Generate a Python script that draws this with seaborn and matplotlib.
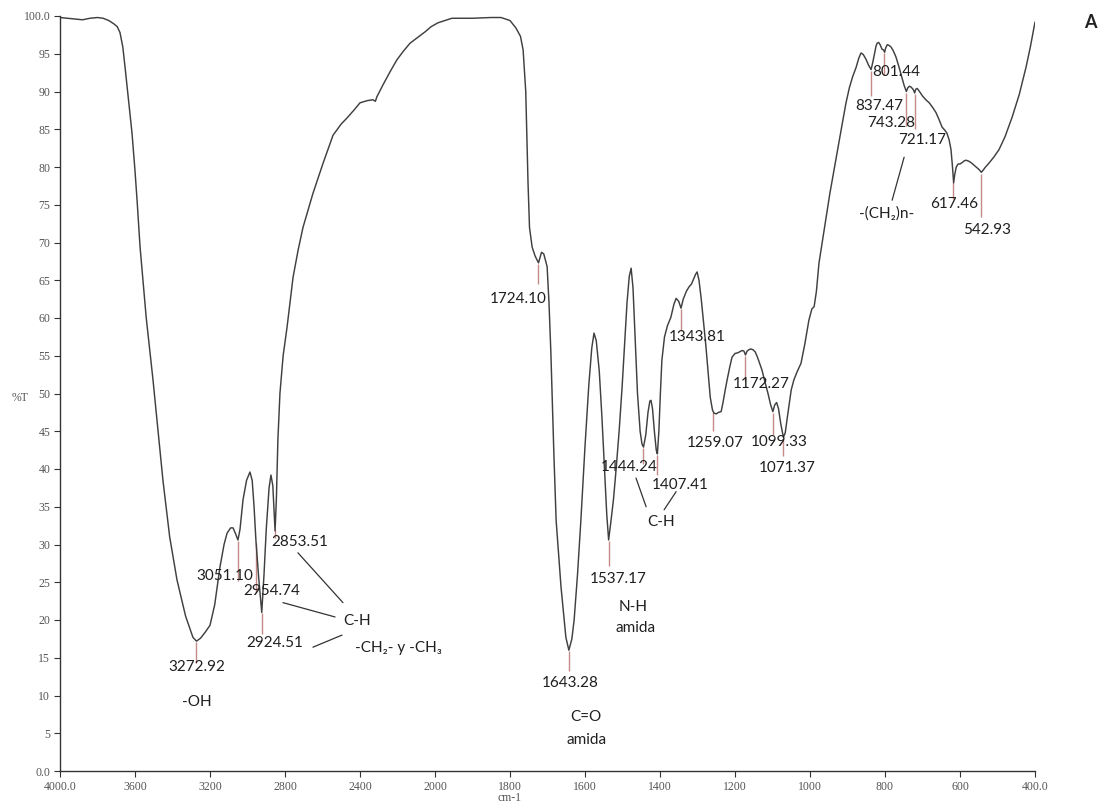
import numpy as np
import pandas as pd
import matplotlib
matplotlib.use("Agg")
import matplotlib.pyplot as plt
import seaborn as sns

# ---------------- data ----------------
wavenumber = [
    4000, 3960, 3920, 3880, 3840, 3800, 3770, 3740, 3715, 3695,
    3680, 3665, 3653, 3635, 3616, 3600, 3589, 3573, 3540, 3504,
    3475, 3451, 3415, 3376, 3330, 3291, 3272, 3250, 3225, 3200,
    3175, 3147, 3125, 3109, 3090, 3077, 3065, 3051, 3040, 3024,
    3005, 2987, 2975, 2965, 2955, 2940, 2924, 2912, 2900, 2885,
    2875, 2865, 2853, 2846, 2838, 2827, 2810, 2789, 2757, 2730,
    2704, 2651, 2597, 2544, 2500, 2469, 2430, 2400, 2360, 2331,
    2318, 2310, 2277, 2240, 2203, 2170, 2133, 2090, 2053, 2020,
    1992, 1955, 1900, 1850, 1824, 1800, 1784, 1772, 1765, 1758,
    1752, 1748, 1741, 1733, 1724, 1716, 1710, 1701, 1696, 1691,
    1683, 1677, 1664, 1651, 1643, 1635, 1629, 1620, 1611, 1600,
    1590, 1582, 1576, 1570, 1562, 1555, 1548, 1542, 1537, 1531,
    1524, 1517, 1509, 1501, 1494, 1488, 1482, 1477, 1472, 1466,
    1460, 1453, 1448, 1444, 1438, 1432, 1427, 1424, 1420, 1415,
    1410, 1407, 1403, 1399, 1395, 1388, 1380, 1371, 1363, 1357,
    1350, 1344, 1338, 1330, 1323, 1316, 1310, 1305, 1301, 1296,
    1290, 1284, 1278, 1272, 1266, 1260, 1256, 1250, 1244, 1237,
    1232, 1226, 1221, 1214, 1208, 1200, 1192, 1185, 1180, 1176,
    1172, 1168, 1163, 1158, 1152, 1146, 1140, 1133, 1128, 1120,
    1112, 1105, 1099, 1094, 1089, 1084, 1078, 1071, 1066, 1060,
    1050, 1043, 1035, 1024, 1014, 1003, 995, 989, 983, 976,
    966, 957, 947, 936, 926, 917, 910, 904, 895, 886,
    877, 870, 864, 858, 851, 844, 837, 832, 828, 824,
    821, 817, 813, 808, 804, 801, 798, 794, 789, 784,
    778, 771, 763, 755, 749, 743, 739, 735, 731, 727,
    724, 721, 718, 714, 708, 700, 691, 682, 673, 664,
    656, 648, 641, 635, 629, 624, 620, 617, 614, 610,
    605, 600, 594, 589, 584, 578, 571, 564, 557, 550,
    543, 538, 532, 523, 510, 496, 480, 461, 442, 424,
    412, 400,
]
transmittance = [
    99.8, 99.7, 99.6, 99.5, 99.7, 99.8, 99.7, 99.4, 99.0, 98.6,
    97.8, 95.9, 93.2, 89.0, 84.5, 79.5, 75.6, 69.4, 60.0, 51.8,
    44.5, 38.5, 31.0, 25.3, 20.5, 17.7, 17.2, 17.6, 18.4, 19.3,
    22.0, 27.0, 30.0, 31.5, 32.2, 32.2, 31.5, 30.6, 32.0, 35.9,
    38.5, 39.6, 38.5, 35.0, 30.5, 25.5, 21.0, 26.0, 32.0, 37.5,
    39.2, 37.8, 31.8, 36.0, 43.8, 50.0, 55.0, 58.8, 65.4, 69.0,
    72.0, 76.5, 80.5, 84.2, 85.7, 86.5, 87.6, 88.5, 88.8, 88.9,
    88.7, 89.3, 90.9, 92.6, 94.2, 95.3, 96.4, 97.2, 97.9, 98.6,
    99.1, 99.7, 99.7, 99.8, 99.8, 99.4, 98.4, 97.3, 95.5, 90.0,
    78.0, 72.0, 69.4, 68.2, 67.3, 68.7, 68.5, 66.8, 62.0, 55.4,
    42.0, 33.2, 24.4, 17.7, 16.0, 17.5, 20.0, 26.0, 33.2, 43.0,
    51.0, 56.0, 58.0, 57.0, 53.0, 47.0, 40.0, 34.0, 30.6, 33.0,
    36.0, 40.0, 45.0, 50.9, 57.0, 62.0, 65.5, 66.6, 64.0, 57.0,
    50.0, 45.0, 43.3, 42.9, 44.5, 47.5, 49.0, 49.1, 48.0, 45.0,
    42.5, 42.0, 45.0, 50.0, 54.4, 57.5, 59.0, 60.1, 61.8, 62.6,
    62.2, 61.3, 62.5, 63.5, 64.1, 64.5, 65.2, 65.8, 66.1, 65.0,
    62.5, 59.5, 56.5, 53.0, 49.5, 47.8, 47.4, 47.3, 47.5, 47.6,
    48.8, 50.5, 51.8, 53.5, 54.8, 55.3, 55.4, 55.6, 55.7, 55.6,
    55.1, 55.6, 55.8, 55.9, 55.8, 55.5, 54.8, 53.8, 53.1, 51.5,
    50.0, 48.5, 47.6, 48.5, 48.8, 48.0, 46.0, 44.2, 44.8, 47.0,
    50.5, 51.8, 52.8, 54.0, 56.5, 59.7, 61.2, 61.5, 63.5, 67.3,
    70.5, 73.4, 76.5, 79.6, 82.4, 84.9, 86.8, 88.5, 90.5, 92.0,
    93.2, 94.4, 95.1, 94.9, 94.3, 93.5, 92.9, 94.0, 95.0, 96.0,
    96.4, 96.5, 96.2, 95.6, 95.5, 95.2, 95.8, 96.2, 96.1, 95.9,
    95.4, 94.6, 93.3, 91.9, 90.8, 90.0, 90.5, 90.7, 90.6, 90.4,
    90.2, 89.8, 90.3, 90.4, 90.0, 89.4, 88.9, 88.5, 87.9, 87.2,
    86.3, 85.3, 84.9, 84.5, 83.6, 82.3, 80.0, 77.9, 79.0, 80.0,
    80.4, 80.4, 80.6, 80.8, 80.9, 80.8, 80.6, 80.3, 80.0, 79.7,
    79.3, 79.6, 80.0, 80.5, 81.3, 82.3, 84.0, 86.6, 89.6, 93.2,
    96.0, 99.2,
]

peak_wn = [3272.92, 3051.10, 2954.74, 2924.51, 2853.51, 1724.10, 1643.28,
           1537.17, 1444.24, 1407.41, 1343.81, 1259.07, 1172.27, 1099.33,
           1071.37, 837.47, 801.44, 743.28, 721.17, 617.46, 542.93]
peak_labels = ["3272.92", "3051.10", "2954.74", "2924.51", "2853.51", "1724.10",
               "1643.28", "1537.17", "1444.24", "1407.41", "1343.81", "1259.07",
               "1172.27", "1099.33", "1071.37", "837.47", "801.44", "743.28",
               "721.17", "617.46", "542.93"]

group_labels = ["-OH", "C-H", "-CH\u2082- y -CH\u2083", "C=O", "amida", "N-H",
                "amida", "C-H", "-(CH\u2082)n-"]

x_ticks = [4000, 3600, 3200, 2800, 2400, 2000, 1800, 1600, 1400, 1200, 1000, 800, 600, 400]
x_tick_labels = ["4000.0", "3600", "3200", "2800", "2400", "2000", "1800", "1600",
                 "1400", "1200", "1000", "800", "600", "400.0"]
y_ticks = [0, 5, 10, 15, 20, 25, 30, 35, 40, 45, 50, 55, 60, 65, 70, 75, 80, 85, 90, 95, 100]
y_tick_labels = ["0.0", "5", "10", "15", "20", "25", "30", "35", "40", "45", "50",
                 "55", "60", "65", "70", "75", "80", "85", "90", "95", "100.0"]

# ---------------- layout / style (not data) ----------------
marker_len = [2.7, 5.3, 6.5, 2.8, 1.0, 2.6, 2.6, 3.3, 2.0, 2.6, 2.9, 2.5, 3.3,
              3.0, 2.4, 3.3, 2.9, 4.4, 4.6, 2.3, 5.7]
peak_label_pos = [(3270, 13.8), (3120, 25.8), (2870, 23.8), (2853, 16.9), (2720, 30.3),
                  (1779, 62.5), (1640, 11.7), (1512, 25.4), (1483, 40.3), (1347, 37.9),
                  (1301, 57.5), (1253, 43.4), (1131, 51.3), (1083, 43.6), (1061, 40.1),
                  (816, 88.1), (771, 92.6), (784, 85.8), (701, 83.6), (616, 75.1),
                  (528, 71.7)]
group_label_pos = [(3270, 9.1), (2416, 19.9), (2197, 16.3), (1597, 7.2), (1597, 4.1),
                   (1472, 21.7), (1466, 18.9), (1397, 33.0), (795, 73.9)]
leaders = [((2731, 28.9), (2491, 22.3)), ((2811, 22.3), (2533, 20.4)),
           ((2651, 16.4), (2496, 18.0)), ((1464, 38.8), (1437, 35.0)),
           ((1357, 37.0), (1389, 34.6)), ((749, 81.3), (781, 75.6))]

sns.set_style("ticks")
plt.rcParams['font.family'] = ['Lato', 'DejaVu Sans']

fig = plt.figure(figsize=(11.04, 8.09), dpi=100)
ax = fig.add_axes([60 / 1104, 1 - 771 / 809, 975 / 1104, 755 / 809])

df = pd.DataFrame({"wn": wavenumber, "T": transmittance})
sns.lineplot(data=df, x="wn", y="T", ax=ax, color="#404040", linewidth=1.05,
             estimator=None, sort=False)


def fwd(x):
    x = np.asarray(x, dtype=float)
    return np.where(x <= 2000, 2 * x, x + 2000)


def inv(u):
    u = np.asarray(u, dtype=float)
    return np.where(u <= 4000, u / 2, u - 2000)


ax.set_xscale('function', functions=(fwd, inv))
ax.set_xlim(4000, 400)
ax.set_ylim(0, 100)

# peak marker lines
wn_arr = np.array(wavenumber, dtype=float)[::-1]
t_arr = np.array(transmittance, dtype=float)[::-1]
for pw, ml in zip(peak_wn, marker_len):
    tv = np.interp(pw, wn_arr, t_arr)
    ax.plot([pw, pw], [tv - 0.2, tv - 0.2 - ml], color="#c48a86", lw=1.0,
            solid_capstyle="butt", zorder=1)

for lbl, (px, py) in zip(peak_labels, peak_label_pos):
    ax.text(px, py, lbl, ha="center", va="center", fontsize=11, color="#1f1f1f")

for lbl, (px, py) in zip(group_labels, group_label_pos):
    ax.text(px, py, lbl, ha="center", va="center", fontsize=11, color="#1f1f1f")

for (a, b) in leaders:
    ax.plot([a[0], b[0]], [a[1], b[1]], color="#333333", lw=0.9)

ax.set_xticks(x_ticks)
ax.set_xticklabels(x_tick_labels)
ax.set_yticks(y_ticks)
ax.set_yticklabels(y_tick_labels)
ax.minorticks_off()
for lab in ax.get_xticklabels() + ax.get_yticklabels():
    lab.set_fontfamily("Liberation Serif")
    lab.set_fontsize(8.5)
    lab.set_color("#555555")
ax.tick_params(direction="out", length=4, width=0.8, color="#333333", pad=3)

sns.despine(ax=ax)
for s in ("left", "bottom"):
    ax.spines[s].set_color("#333333")
    ax.spines[s].set_linewidth(1.0)

ax.set_xlabel("cm-1", fontfamily="Liberation Serif", fontsize=8.5, color="#555555")
ax.xaxis.set_label_coords(0.4615, -0.036)
ax.xaxis.label.set_va("center")
ax.set_ylabel("%T", rotation=0, fontfamily="Liberation Serif", fontsize=8.5, color="#555555")
ax.yaxis.set_label_coords(-0.041, 0.494)
ax.yaxis.label.set_va("center")
ax.yaxis.label.set_ha("center")

fig.text(1090 / 1104, 1 - 22 / 809, "A", fontsize=13, fontweight="bold",
         ha="center", va="center", color="#222222")

fig.savefig("out.png", dpi=100, facecolor="white")
